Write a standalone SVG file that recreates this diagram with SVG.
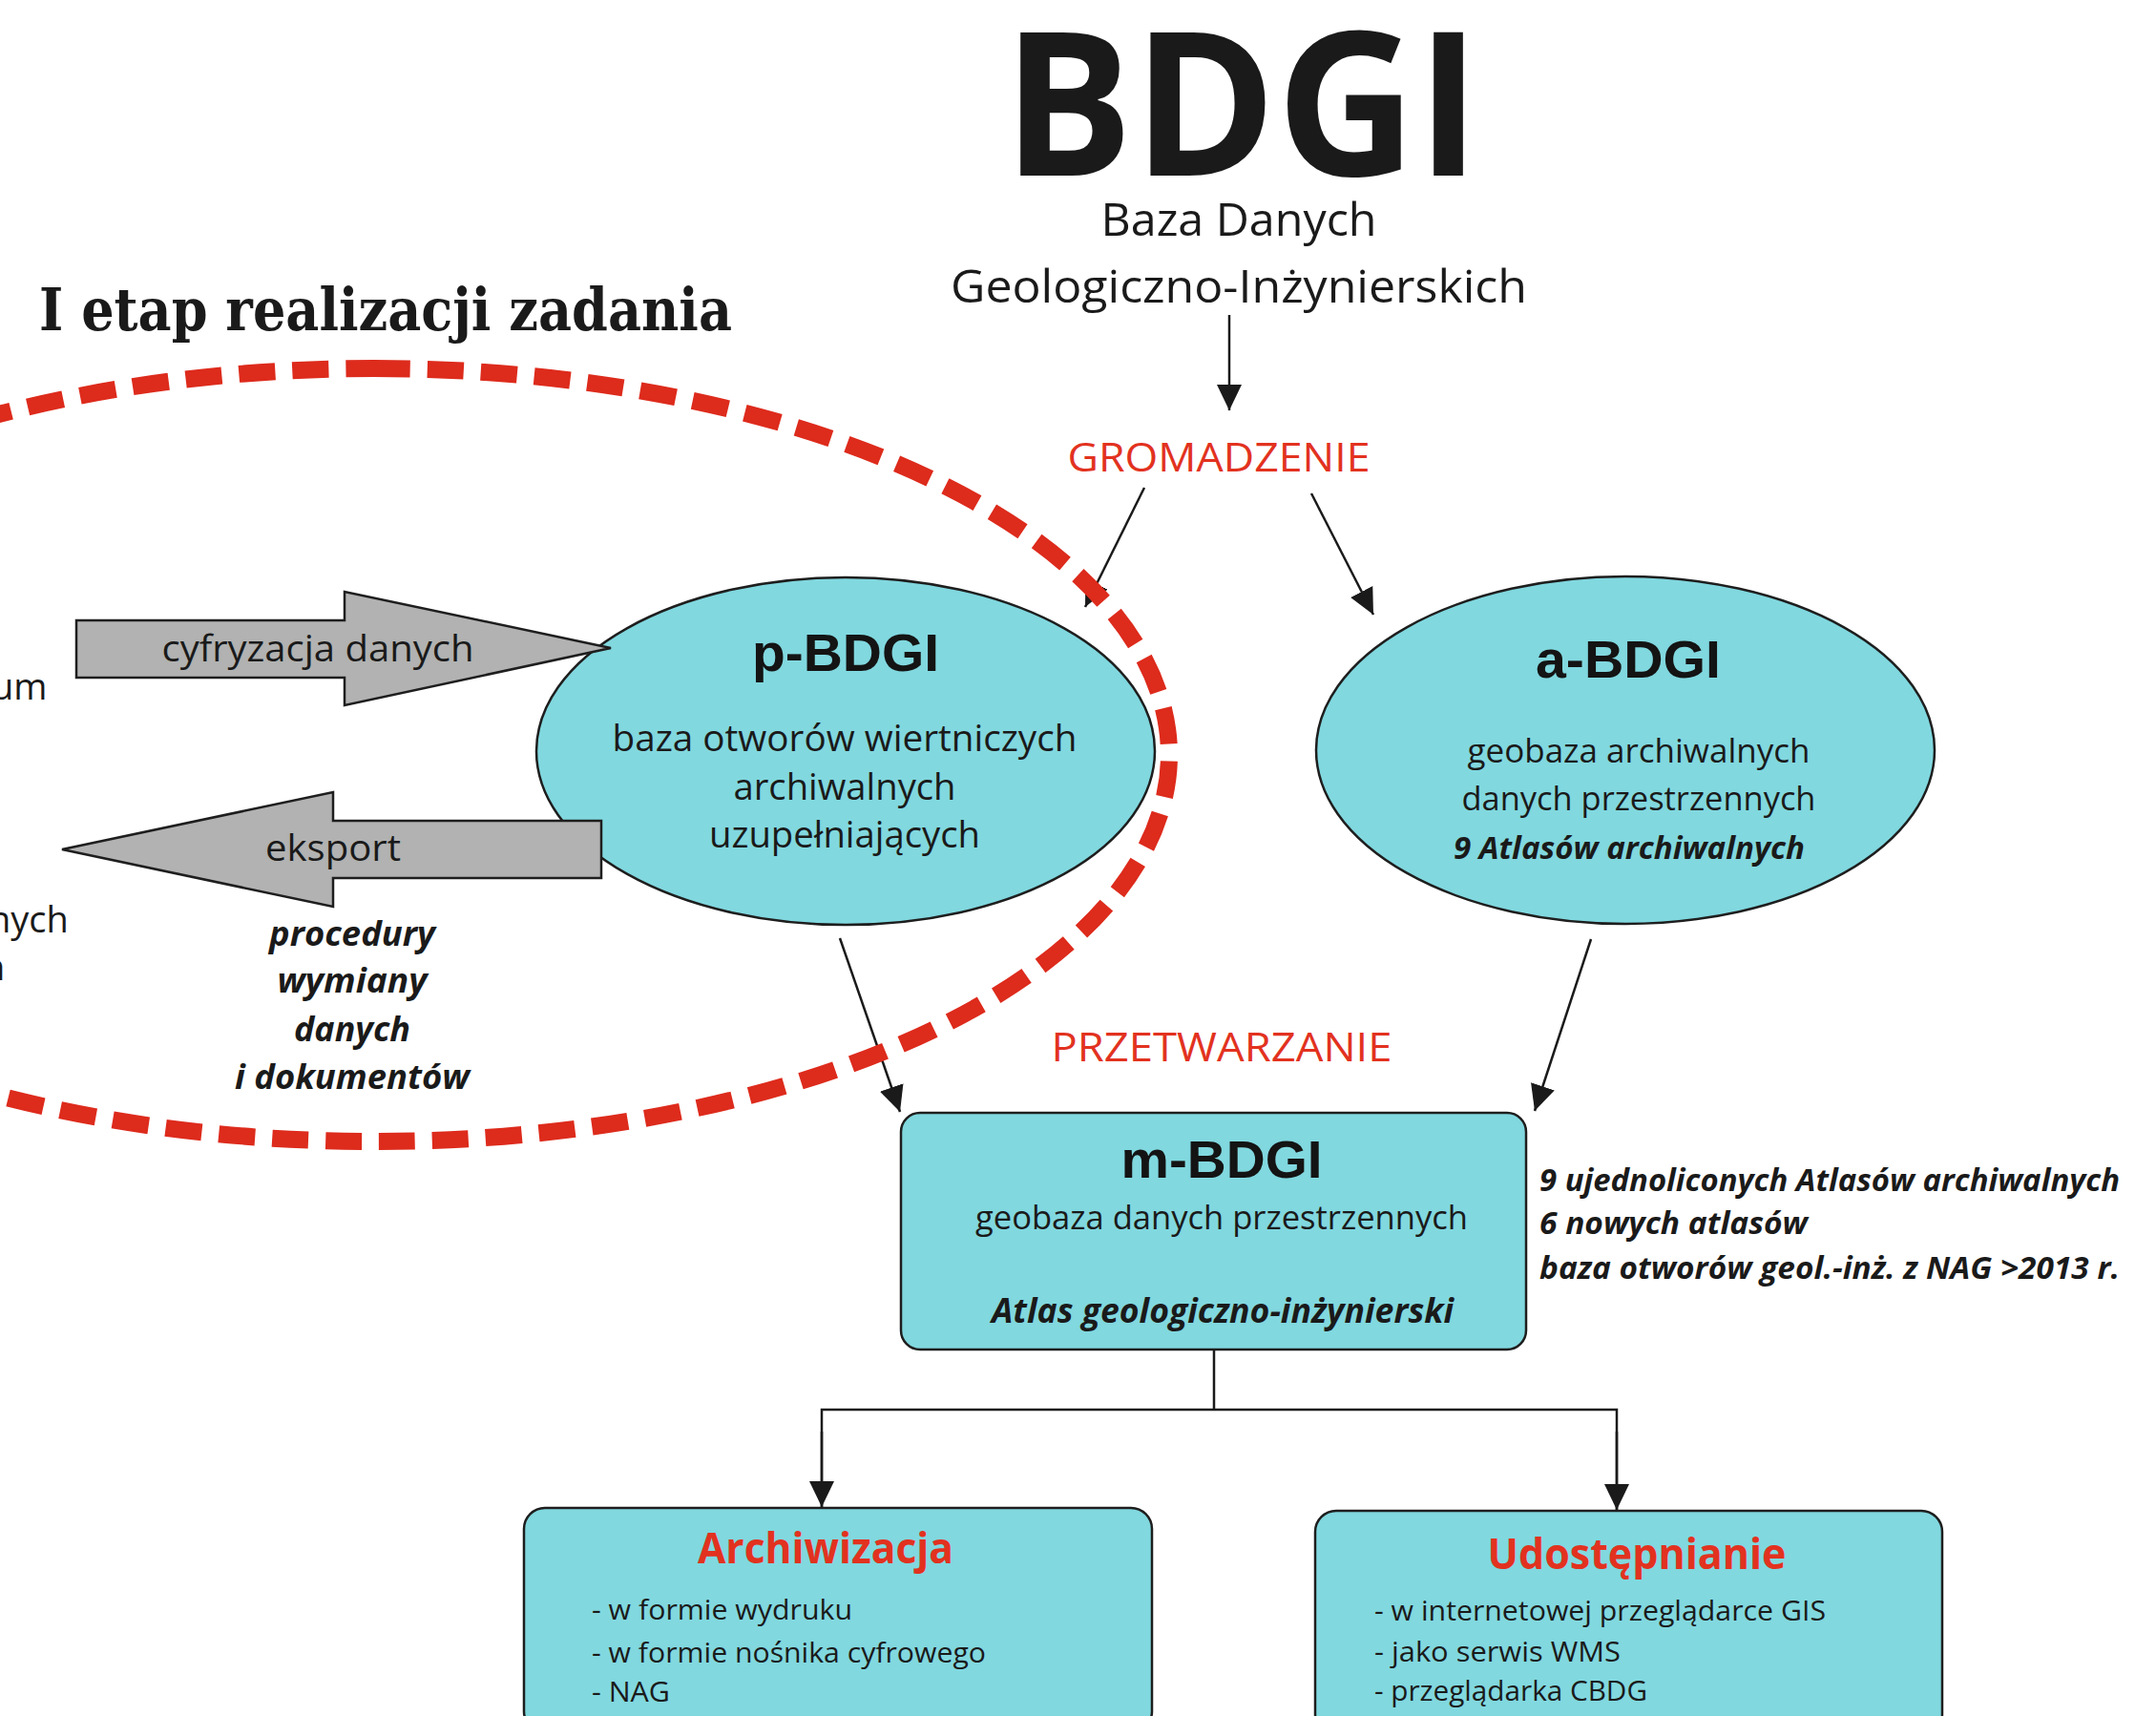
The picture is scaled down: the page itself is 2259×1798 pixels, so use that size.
<svg xmlns="http://www.w3.org/2000/svg" width="2259" height="1798" viewBox="0 0 2259 1798">
<defs>
<style>
.bg{fill:#ffffff}
.node{fill:#81D8DF;stroke:#1e1e1e;stroke-width:2.5}
.garrow{fill:#B1B2B1;stroke:#1e1e1e;stroke-width:2.5;stroke-linejoin:miter}
.conn{stroke:#1a1a1a;stroke-width:2.5;fill:none}
.dash{fill:none;stroke:#DD2B1C;stroke-width:18;stroke-dasharray:38 18}
.t{font-family:"Open Sans","Noto Sans","DejaVu Sans",sans-serif;fill:#1a1a1a}
.c{text-anchor:middle}
.b{font-weight:bold}
.bi{font-weight:bold;font-style:italic}
.red{fill:#E2321F}
.hd{font-family:"Liberation Sans",Arial,sans-serif;font-weight:bold;font-size:56px;fill:#141414;text-anchor:middle}
.title{font-family:"DejaVu Serif","Liberation Serif",serif;font-weight:bold;font-size:62px;fill:#1a1a1a}
</style>
<marker id="ah" viewBox="0 0 27 26" refX="27" refY="13" markerWidth="27" markerHeight="26" markerUnits="userSpaceOnUse" orient="auto">
<path d="M0,0 L27,13 L0,26 Z" fill="#1a1a1a"/>
</marker>
</defs>
<rect class="bg" x="0" y="0" width="2259" height="1798"/>

<g id="title">
<text class="title" x="404" y="346" text-anchor="middle" textLength="726" lengthAdjust="spacingAndGlyphs">I etap realizacji zadania</text>
</g>

<g id="bdgi">
<text class="t b c" x="1301" y="184" font-size="211" textLength="500" lengthAdjust="spacingAndGlyphs">BDGI</text>
<text class="t c" x="1298" y="247" font-size="48" textLength="289" lengthAdjust="spacingAndGlyphs">Baza Danych</text>
<text class="t c" x="1298" y="317" font-size="48" textLength="604" lengthAdjust="spacingAndGlyphs">Geologiczno-Inżynierskich</text>
</g>

<g id="label-gromadzenie">
<text class="t c red" x="1277" y="494" font-size="42" textLength="317" lengthAdjust="spacingAndGlyphs">GROMADZENIE</text>
</g>
<g id="label-przetwarzanie">
<text class="t c red" x="1280" y="1112" font-size="42" textLength="357" lengthAdjust="spacingAndGlyphs">PRZETWARZANIE</text>
</g>

<g id="p-bdgi">
<ellipse class="node" cx="886" cy="787" rx="324" ry="182"/>
<text class="hd" x="886" y="703" textLength="196" lengthAdjust="spacingAndGlyphs">p-BDGI</text>
<text class="t c" x="885" y="787" font-size="38" textLength="487" lengthAdjust="spacingAndGlyphs">baza otworów wiertniczych</text>
<text class="t c" x="885" y="838" font-size="38" textLength="233" lengthAdjust="spacingAndGlyphs">archiwalnych</text>
<text class="t c" x="885" y="888" font-size="38" textLength="284" lengthAdjust="spacingAndGlyphs">uzupełniających</text>
</g>

<g id="a-bdgi">
<ellipse class="node" cx="1703" cy="786" rx="324" ry="182"/>
<text class="hd" x="1706" y="710" textLength="194" lengthAdjust="spacingAndGlyphs">a-BDGI</text>
<text class="t c" x="1717" y="799" font-size="35" textLength="359" lengthAdjust="spacingAndGlyphs">geobaza archiwalnych</text>
<text class="t c" x="1717" y="849" font-size="35" textLength="371" lengthAdjust="spacingAndGlyphs">danych przestrzennych</text>
<text class="t c bi" x="1707" y="900" font-size="32" textLength="368" lengthAdjust="spacingAndGlyphs">9 Atlasów archiwalnych</text>
</g>

<g id="m-bdgi">
<rect class="node" x="944" y="1166" width="655" height="248" rx="20" ry="20"/>
<text class="hd" x="1280" y="1234" textLength="211" lengthAdjust="spacingAndGlyphs">m-BDGI</text>
<text class="t c" x="1280" y="1288" font-size="35" textLength="516" lengthAdjust="spacingAndGlyphs">geobaza danych przestrzennych</text>
<text class="t c bi" x="1281" y="1386" font-size="35" textLength="484" lengthAdjust="spacingAndGlyphs">Atlas geologiczno-inżynierski</text>
</g>

<g id="m-bdgi-notes">
<text class="t bi" x="1613" y="1248" font-size="32" textLength="608" lengthAdjust="spacingAndGlyphs">9 ujednoliconych Atlasów archiwalnych</text>
<text class="t bi" x="1613" y="1293" font-size="32" textLength="281" lengthAdjust="spacingAndGlyphs">6 nowych atlasów</text>
<text class="t bi" x="1613" y="1340" font-size="32" textLength="608" lengthAdjust="spacingAndGlyphs">baza otworów geol.-inż. z NAG &gt;2013 r.</text>
</g>

<g id="archiwizacja">
<rect class="node" x="549" y="1580" width="658" height="235" rx="22" ry="22"/>
<text class="t c b red" x="865" y="1638" font-size="44" textLength="268" lengthAdjust="spacingAndGlyphs">Archiwizacja</text>
<text class="t" x="620" y="1697" font-size="30" textLength="273" lengthAdjust="spacingAndGlyphs">- w formie wydruku</text>
<text class="t" x="620" y="1742" font-size="30" textLength="413" lengthAdjust="spacingAndGlyphs">- w formie nośnika cyfrowego</text>
<text class="t" x="620" y="1783" font-size="30" textLength="82" lengthAdjust="spacingAndGlyphs">- NAG</text>
</g>

<g id="udostepnianie">
<rect class="node" x="1378" y="1583" width="657" height="235" rx="22" ry="22"/>
<text class="t c b red" x="1715" y="1644" font-size="44" textLength="313" lengthAdjust="spacingAndGlyphs">Udostępnianie</text>
<text class="t" x="1440" y="1698" font-size="30" textLength="473" lengthAdjust="spacingAndGlyphs">- w internetowej przeglądarce GIS</text>
<text class="t" x="1440" y="1741" font-size="30" textLength="258" lengthAdjust="spacingAndGlyphs">- jako serwis WMS</text>
<text class="t" x="1440" y="1782" font-size="30" textLength="286" lengthAdjust="spacingAndGlyphs">- przeglądarka CBDG</text>
</g>

<g id="cyfryzacja">
<path class="garrow" d="M80,650 L361,650 L361,620 L640,679 L361,739 L361,710 L80,710 Z"/>
<text class="t c" x="333" y="693" font-size="39" textLength="327" lengthAdjust="spacingAndGlyphs">cyfryzacja danych</text>
</g>

<g id="eksport">
<path class="garrow" d="M630,860 L349,860 L349,830 L65,890 L349,950 L349,920 L630,920 Z"/>
<text class="t c" x="349" y="902" font-size="39" textLength="142" lengthAdjust="spacingAndGlyphs">eksport</text>
</g>

<g id="procedury">
<text class="t c bi" x="369" y="991" font-size="35" textLength="174" lengthAdjust="spacingAndGlyphs">procedury</text>
<text class="t c bi" x="369" y="1040" font-size="35" textLength="157" lengthAdjust="spacingAndGlyphs">wymiany</text>
<text class="t c bi" x="369" y="1091" font-size="35" textLength="122" lengthAdjust="spacingAndGlyphs">danych</text>
<text class="t c bi" x="369" y="1141" font-size="35" textLength="246" lengthAdjust="spacingAndGlyphs">i dokumentów</text>
</g>

<g id="left-fragments">
<text class="t" x="-9" y="733" font-size="38">um</text>
<text class="t" x="-12" y="977" font-size="38">nych</text>
<text class="t" x="-18" y="1027" font-size="38">h</text>
</g>

<g id="connectors">
<line class="conn" x1="1288" y1="330" x2="1288" y2="430" marker-end="url(#ah)"/>
<line class="conn" x1="1199" y1="511" x2="1137" y2="636" marker-end="url(#ah)"/>
<line class="conn" x1="1374" y1="517" x2="1439" y2="644" marker-end="url(#ah)"/>
<line class="conn" x1="880" y1="983" x2="943" y2="1165" marker-end="url(#ah)"/>
<line class="conn" x1="1667" y1="984" x2="1608" y2="1164" marker-end="url(#ah)"/>
<line class="conn" x1="1272" y1="1414" x2="1272" y2="1477"/>
<polyline class="conn" points="861,1579 861,1477 1694,1477 1694,1582"/>
<line class="conn" x1="861" y1="1500" x2="861" y2="1579" marker-end="url(#ah)"/>
<line class="conn" x1="1694" y1="1500" x2="1694" y2="1582" marker-end="url(#ah)"/>
</g>

<g id="stage-outline">
<path class="dash" d="M392,386 A833,405 0 0 1 392,1196 A833,405 0 0 1 392,386 Z"/>
</g>
</svg>
